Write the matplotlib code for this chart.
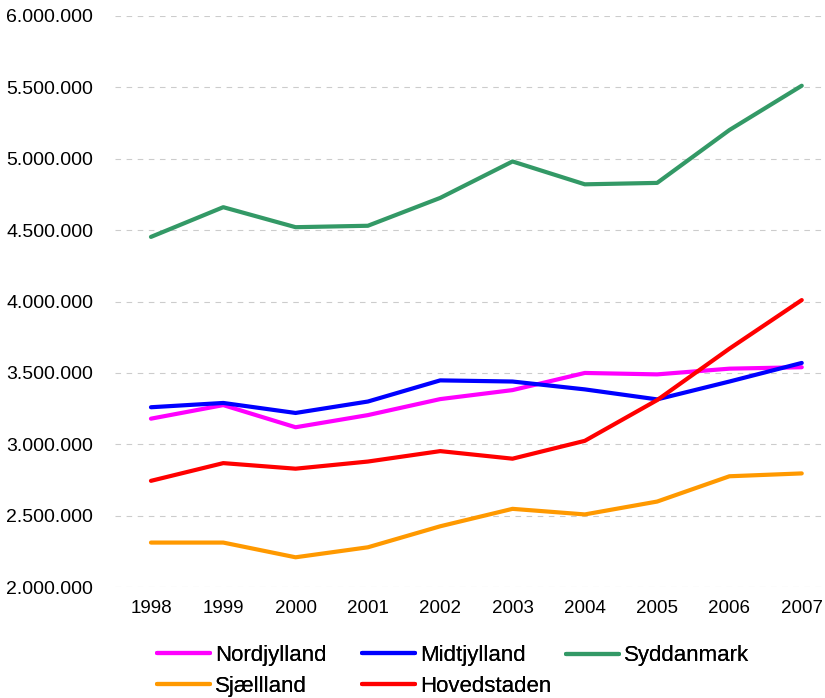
import matplotlib
matplotlib.use("Agg")
import matplotlib.pyplot as plt
from matplotlib.ticker import FuncFormatter, MultipleLocator

plt.rcParams['font.family'] = ['Liberation Sans', 'DejaVu Sans']

years = ['1998', '1999', '2000', '2001', '2002', '2003', '2004', '2005', '2006', '2007']
nordjylland = [3180000, 3275000, 3120000, 3205000, 3317000, 3380000, 3500000, 3490000, 3530000, 3540000]
midtjylland = [3260000, 3290000, 3220000, 3300000, 3448000, 3440000, 3385000, 3315000, 3440000, 3570000]
syddanmark = [4452000, 4660000, 4520000, 4530000, 4725000, 4980000, 4820000, 4830000, 5200000, 5510000]
sjaelland = [2313000, 2313000, 2210000, 2280000, 2427000, 2549000, 2510000, 2600000, 2777000, 2797000]
hovedstaden = [2745000, 2869000, 2830000, 2880000, 2953000, 2900000, 3025000, 3310000, 3670000, 4010000]

series = [
    ('Nordjylland', nordjylland, '#FF00FF'),
    ('Midtjylland', midtjylland, '#0000FF'),
    ('Syddanmark', syddanmark, '#339966'),
    ('Sjællland', sjaelland, '#FF9900'),
    ('Hovedstaden', hovedstaden, '#FF0000'),
]

fig = plt.figure(figsize=(8.25, 6.98), dpi=100)
W, H = 825, 698
left_px, right_px = 114.8, 837.9
top_px, bot_px = 15.7, 587.3
ax = fig.add_axes([left_px / W, 1 - bot_px / H, (right_px - left_px) / W, (bot_px - top_px) / H])

x = list(range(len(years)))
handles = {}
for name, vals, col in series:
    ln, = ax.plot(x, vals, color=col, lw=3, solid_capstyle='round', solid_joinstyle='round', label=name)
    handles[name] = ln

ax.set_xlim(-0.5, len(years) - 0.5)
ax.set_ylim(2000000, 6000000)
ax.yaxis.set_major_locator(MultipleLocator(500000))
ax.yaxis.set_major_formatter(FuncFormatter(lambda v, p: f"{int(round(v)):,}".replace(',', '.')))
ax.set_xticks(x)
ax.set_xticklabels(years)
ax.tick_params(axis='both', length=0, colors='#000000')
ax.tick_params(axis='y', pad=15.5, labelsize=14)
ax.tick_params(axis='x', pad=9, labelsize=13.5)
ax.grid(axis='y', color='#CCCCCC', lw=0.8, linestyle=(0, (5, 5)))
ax.set_axisbelow(True)
for s in ax.spines.values():
    s.set_visible(False)

leg_kw = dict(frameon=False, fontsize=16, handlelength=2.4, handletextpad=0.22,
              borderpad=0, borderaxespad=0, labelspacing=0.45, loc='center left')
cols = [(157, ['Nordjylland', 'Sjællland'], 671),
        (362, ['Midtjylland', 'Hovedstaden'], 671),
        (566, ['Syddanmark'], 656)]
for xpx, names, ypx in cols:
    lg = fig.legend([handles[n] for n in names], names, bbox_to_anchor=(xpx / W, 1 - ypx / H), **leg_kw)
    fig.add_artist(lg)

fig.savefig('out.png', dpi=100)
